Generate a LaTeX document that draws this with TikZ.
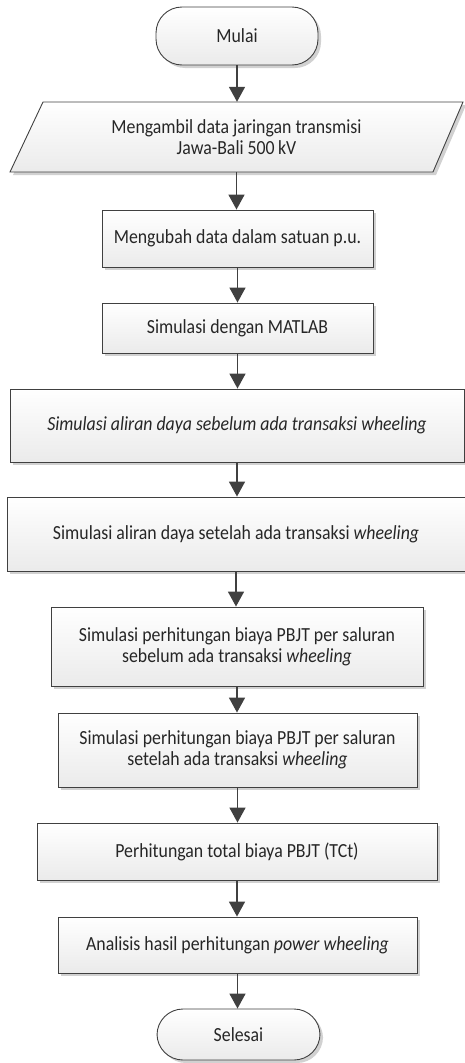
\documentclass[tikz,border=0pt]{standalone}
\usepackage{fontspec}
\setmainfont[FakeStretch=0.89]{Carlito}
\usetikzlibrary{arrows.meta,shadows,calc}
\definecolor{edge}{HTML}{404040}
\definecolor{ink}{HTML}{262626}
\tikzset{
  boxfill/.style={top color=white, bottom color=black!8, draw=edge, line width=0.9pt,
    drop shadow={shadow xshift=3pt, shadow yshift=-3pt, fill=black!18, opacity=1}},
  procbox/.style={boxfill, rectangle, inner sep=0pt, align=center, text=ink,
    font=\fontsize{20}{21}\selectfont},
  termbox/.style={procbox, rounded corners=26pt},
  textonly/.style={inner sep=0pt, align=center, text=ink, font=\fontsize{20}{21}\selectfont},
  flow/.style={draw=edge, line width=1.6pt, -{Triangle[width=16pt,length=15pt]}}
}
\begin{document}
\begin{tikzpicture}[x=1pt,y=-1pt]
\useasboundingbox (0,0) rectangle (465,1063);
% start
\node[termbox, minimum width=162pt, minimum height=58pt] (start) at (237,36) {Mulai};
% parallelogram
\coordinate (pc) at (236.5,137);
\path[boxfill] ($(pc)+(-193.5,-35)$) -- ($(pc)+(226.5,-35)$) -- ($(pc)+(196.5,35)$) -- ($(pc)+(-226.5,35)$) -- cycle;
\node[textonly, minimum width=420pt, minimum height=70pt] (input) at (pc) {Mengambil data jaringan transmisi\\Jawa-Bali 500\,kV};
% process boxes
\node[procbox, minimum width=271pt, minimum height=57pt] (b2) at (237.5,238.5) {Mengubah data dalam satuan p.u.};
\node[procbox, minimum width=271pt, minimum height=50pt] (b3) at (237.5,328) {Simulasi dengan MATLAB};
\node[procbox, minimum width=454pt, minimum height=73pt] (b4) at (237,425.5) {\itshape Simulasi aliran daya sebelum ada transaksi wheeling};
\node[procbox, minimum width=458pt, minimum height=74pt] (b5) at (236,534) {Simulasi aliran daya setelah ada transaksi \textit{wheeling}};
\node[procbox, minimum width=372pt, minimum height=79pt] (b6) at (237,646.5) {Simulasi perhitungan biaya PBJT per saluran\\sebelum ada transaksi \textit{wheeling}};
\node[procbox, minimum width=359pt, minimum height=74pt] (b7) at (237.5,750) {Simulasi perhitungan biaya PBJT per saluran\\setelah ada transaksi \textit{wheeling}};
\node[procbox, minimum width=400pt, minimum height=57pt] (b8) at (237,851.5) {Perhitungan total biaya PBJT (TCt)};
\node[procbox, minimum width=359pt, minimum height=56pt] (b9) at (237.5,945) {Analisis hasil perhitungan \textit{power wheeling}};
\node[termbox, minimum width=163pt, minimum height=51pt] (stop) at (238.5,1034.5) {Selesai};
% connectors
\draw[flow] (start.south) -- (start.south |- input.north);
\draw[flow] (input.south) -- (input.south |- b2.north);
\draw[flow] (b2.south) -- (b2.south |- b3.north);
\draw[flow] (b3.south) -- (b3.south |- b4.north);
\draw[flow] (b4.south) -- (b4.south |- b5.north);
\draw[flow] (b5.south) -- (b5.south |- b6.north);
\draw[flow] (b6.south) -- (b6.south |- b7.north);
\draw[flow] (b7.south) -- (b7.south |- b8.north);
\draw[flow] (b8.south) -- (b8.south |- b9.north);
\draw[flow] (b9.south) -- (b9.south |- stop.north);
\end{tikzpicture}
\end{document}
